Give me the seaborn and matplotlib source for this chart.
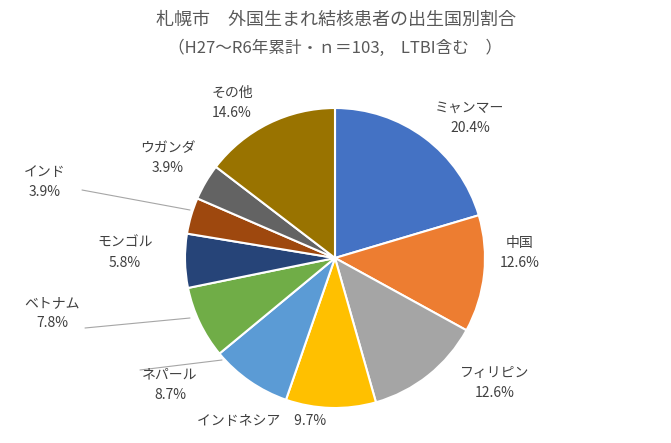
import matplotlib
matplotlib.use("Agg")
import matplotlib.pyplot as plt
import seaborn as sns
import numpy as np

countries = ["ミャンマー", "中国", "フィリピン", "インドネシア", "ネパール",
             "ベトナム", "モンゴル", "インド", "ウガンダ", "その他"]
shares = [20.4, 12.6, 12.6, 9.7, 8.7, 7.8, 5.8, 3.9, 3.9, 14.6]
title_lines = ["札幌市　外国生まれ結核患者の出生国別割合",
               "（H27～R6年累計・ｎ＝103,　LTBI含む　）"]

sns.set_theme(style="white", font="Noto Sans CJK JP")
colors = sns.color_palette(["#4472C4", "#ED7D31", "#A5A5A5", "#FFC000", "#5B9BD5",
                            "#70AD47", "#264478", "#9E480E", "#636363", "#997300"])

fig = plt.figure(figsize=(6.71, 4.43), dpi=100)
ax = fig.add_axes([0, 0, 1, 1])
ax.pie(shares, colors=colors, startangle=90, counterclock=False, radius=1.0,
       wedgeprops=dict(edgecolor="white", linewidth=1.5))
ax.set_xlim(-335 / 150, 336 / 150)
ax.set_ylim(-185 / 150, 258 / 150)
ax.set_aspect("equal")
ax.axis("off")

# label positions (pixel coords of reference), converted to data units
label_px = [(470, 118), (520, 253), (495, 383), (262, 421), (170, 385),
            (52, 313), (125, 253), (45, 182), (168, 158), (232, 103)]
txt_col = "#404040"
for name, val, (px, py) in zip(countries, shares, label_px):
    x, y = (px - 335) / 150, (258 - py) / 150
    if name == "インドネシア":
        s = f"{name}　{val}%"
    else:
        s = f"{name}\n{val}%"
    ha = "center"
    ax.text(x, y, s, ha=ha, va="center", fontsize=10, color=txt_col, linespacing=1.6)

# leader lines for small/outer labels
for (lx, ly), (tx, ty) in [((85, 328), (190, 318)), ((82, 190), (190, 210)),
                           ((140, 370), (222, 360))]:
    ax.plot([(lx - 335) / 150, (tx - 335) / 150], [(258 - ly) / 150, (258 - ty) / 150],
            color="#A6A6A6", lw=0.8)

fig.text(0.5, 1 - 20 / 443, title_lines[0], ha="center", va="center", fontsize=13, color="#595959")
fig.text(0.5, 1 - 48 / 443, title_lines[1], ha="center", va="center", fontsize=12, color="#595959")

fig.savefig("out.png", dpi=100)
